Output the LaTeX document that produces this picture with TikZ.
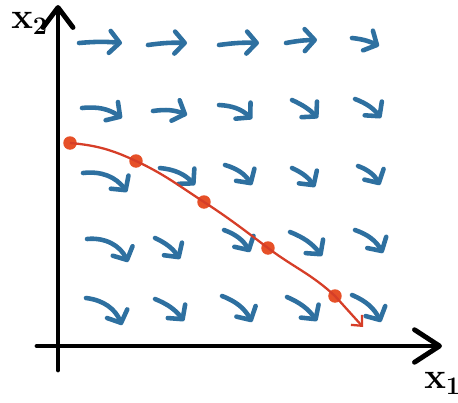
\documentclass[tikz,border=0pt]{standalone}
\usepackage{tikz}
\usetikzlibrary{arrows.meta, positioning, calc}

\definecolor{fieldblue}{RGB}{46,112,160}
\definecolor{trajred}{RGB}{214,62,40}
\definecolor{dotred}{RGB}{230,80,40}

\begin{document}
\begin{tikzpicture}[
        x=0.02cm, y=0.02cm,
        axis/.style={
            line width=2.8pt, draw=black, line cap=round,
            -{Straight Barb[length=4mm, width=6mm, round]}
        },
        field/.style={
            line width=2.6pt, draw=fieldblue, line cap=round,
            -{Straight Barb[length=2mm, width=4.4mm, round]}
        },
        traj/.style={
            line width=1.3pt, draw=trajred,
            -{Straight Barb[length=1.6mm, width=3mm]}
        },
        state/.style={
            circle, fill=dotred, inner sep=0pt, minimum size=0.27cm
        },
        axlabel/.style={
            font=\fontsize{21}{23}\selectfont\bfseries, inner sep=0pt
        }
    ]
        \useasboundingbox (0,0) rectangle (458,-403);

        % ----------------------------------------------------
        % AXES
        % ----------------------------------------------------
        \coordinate (ybot) at (58,-370);
        \coordinate (ytop) at (58,-5);
        \coordinate (xleft) at (37,-346);
        \coordinate (xright) at (442,-346);
        \draw[axis] (ybot) -- (ytop);
        \draw[axis, -{Straight Barb[length=5mm, width=6.5mm, round]}] (xleft) -- (xright);

        \node[axlabel, anchor=north west] (xtwo) at (11,-12) {$\mathbf{x}_{\mathbf{2}}$};
        \node[axlabel, anchor=north west] (xone) at (424,-372) {$\mathbf{x}_{\mathbf{1}}$};

        % ----------------------------------------------------
        % VECTOR FIELD (rows top to bottom)
        % ----------------------------------------------------
        \draw[field] (79,-43) to[bend left=5] (122,-43);
        \draw[field] (148,-45) to[bend left=5] (187,-43);
        \draw[field] (219,-45) to[bend left=5] (259,-43);
        \draw[field] (286,-43) to[bend left=5] (317,-40);
        \draw[field] (352,-38) to[bend left=10] (379,-46);

        \draw[field] (82,-108) to[bend left=20] (122,-118);
        \draw[field] (153,-111) to[bend left=15] (187,-115);
        \draw[field] (219,-105) to[bend left=20] (252,-119);
        \draw[field] (292,-100) to[bend left=10] (318,-118);
        \draw[field] (355,-99) to[bend left=15] (381,-118);

        \draw[field] (83,-173) to[bend left=30] (127,-192);
        \draw[field] (160,-168) to[bend left=20] (195,-185);
        \draw[field] (225,-165) to[bend left=20] (252,-185);
        \draw[field] (292,-168) to[bend left=15] (315,-187);
        \draw[field] (358,-166) to[bend left=20] (380,-185);

        \draw[field] (87,-239) to[bend left=35] (128,-262);
        \draw[field] (155,-238) to[bend left=15] (180,-259);
        \draw[field] (224,-230) to[bend left=20] (250,-252);
        \draw[field] (290,-232) to[bend left=15] (322,-256);
        \draw[field] (355,-230) to[bend left=20] (383,-253);

        \draw[field] (86,-298) to[bend left=30] (122,-325);
        \draw[field] (155,-299) to[bend left=15] (184,-321);
        \draw[field] (222,-296) to[bend left=20] (252,-322);
        \draw[field] (287,-297) to[bend left=15] (317,-321);
        \draw[field] (352,-295) to[bend left=20] (381,-322);

        % ----------------------------------------------------
        % TRAJECTORY
        % ----------------------------------------------------
        \node[state] (s0) at (70,-143) {};
        \node[state] (s1) at (136,-161) {};
        \node[state] (s2) at (204,-202) {};
        \node[state] (s3) at (268,-248) {};
        \node[state] (s4) at (335,-296) {};
        \coordinate (send) at (363,-327);

        \draw[traj] (s0.center) to[out=-5, in=155] (s1.center)
            to[out=-25, in=147] (s2.center)
            to[out=-33, in=143] (s3.center)
            to[out=-37, in=137] (s4.center)
            -- (send);

    \end{tikzpicture}
\end{document}
